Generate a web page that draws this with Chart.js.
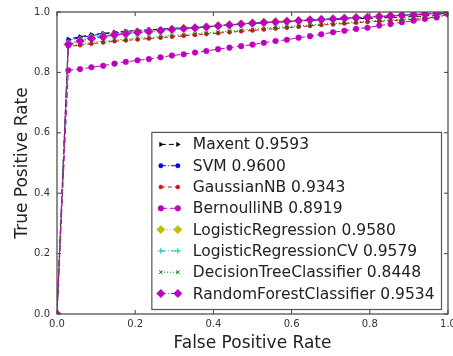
<!DOCTYPE html>
<html>
<head>
<meta charset="utf-8">
<script src="https://cdn.jsdelivr.net/npm/chart.js@4/dist/chart.umd.min.js"></script>
<style>
  html, body { margin: 0; padding: 0; background: #fff; }
  canvas { display: block; }
</style>
</head>
<body>
<canvas id="roc" width="453" height="356"></canvas>
<script>
// false positive rate (shared x values)
const fpr = [0, 0.029, 0.059, 0.088, 0.118, 0.147, 0.176, 0.206, 0.235, 0.265, 0.294, 0.324,
  0.353, 0.382, 0.412, 0.441, 0.471, 0.5, 0.529, 0.559, 0.588, 0.618, 0.647, 0.676, 0.706,
  0.735, 0.765, 0.794, 0.824, 0.853, 0.882, 0.912, 0.941, 0.971, 1.0];

const maxent = [0, 0.910, 0.918, 0.925, 0.929, 0.933, 0.936, 0.939, 0.941, 0.943, 0.945, 0.947,
  0.949, 0.951, 0.954, 0.957, 0.959, 0.962, 0.964, 0.966, 0.968, 0.970, 0.972, 0.974, 0.975,
  0.977, 0.978, 0.979, 0.980, 0.982, 0.983, 0.985, 0.987, 0.990, 1.0];
const svm = [0, 0.906, 0.915, 0.922, 0.927, 0.931, 0.935, 0.938, 0.941, 0.943, 0.946, 0.948,
  0.950, 0.952, 0.955, 0.958, 0.960, 0.963, 0.965, 0.967, 0.969, 0.971, 0.973, 0.975, 0.977,
  0.979, 0.981, 0.983, 0.985, 0.987, 0.989, 0.991, 0.993, 0.996, 1.0];
const gaussianNB = [0, 0.886, 0.890, 0.895, 0.899, 0.903, 0.906, 0.909, 0.912, 0.915, 0.918, 0.921,
  0.924, 0.927, 0.930, 0.933, 0.936, 0.939, 0.942, 0.945, 0.948, 0.951, 0.954, 0.957, 0.959,
  0.962, 0.964, 0.967, 0.969, 0.971, 0.973, 0.976, 0.979, 0.983, 0.995];
const bernoulliNB = [0, 0.807, 0.811, 0.817, 0.822, 0.829, 0.835, 0.840, 0.844, 0.850, 0.856, 0.860,
  0.866, 0.871, 0.877, 0.882, 0.887, 0.892, 0.898, 0.904, 0.908, 0.915, 0.920, 0.926, 0.933,
  0.938, 0.944, 0.948, 0.955, 0.960, 0.966, 0.971, 0.977, 0.982, 0.992];
const logReg = [0, 0.895, 0.906, 0.914, 0.920, 0.925, 0.929, 0.933, 0.936, 0.939, 0.943, 0.946,
  0.948, 0.951, 0.955, 0.958, 0.961, 0.964, 0.966, 0.968, 0.970, 0.972, 0.974, 0.976, 0.978,
  0.980, 0.982, 0.984, 0.986, 0.988, 0.990, 0.992, 0.994, 0.996, 1.0];
const logRegCV = [0, 0.896, 0.907, 0.915, 0.921, 0.926, 0.930, 0.934, 0.937, 0.940, 0.943, 0.946,
  0.949, 0.952, 0.955, 0.958, 0.961, 0.964, 0.966, 0.968, 0.970, 0.972, 0.974, 0.976, 0.978,
  0.980, 0.982, 0.984, 0.986, 0.988, 0.990, 0.992, 0.994, 0.996, 1.0];
const decisionTree = [0, 0.888, 0.893, 0.899, 0.903, 0.907, 0.910, 0.913, 0.916, 0.919, 0.922, 0.925,
  0.928, 0.931, 0.934, 0.937, 0.940, 0.943, 0.946, 0.949, 0.952, 0.954, 0.957, 0.960, 0.962,
  0.965, 0.967, 0.970, 0.972, 0.974, 0.976, 0.979, 0.982, 0.986, 0.996];
const randomForest = [0, 0.892, 0.903, 0.912, 0.917, 0.924, 0.928, 0.932, 0.935, 0.938, 0.942, 0.945,
  0.947, 0.950, 0.954, 0.957, 0.960, 0.963, 0.965, 0.967, 0.969, 0.971, 0.974, 0.975, 0.977,
  0.979, 0.981, 0.982, 0.985, 0.987, 0.989, 0.991, 0.993, 0.995, 1.0];

const names = ["Maxent", "SVM", "GaussianNB", "BernoulliNB", "LogisticRegression",
  "LogisticRegressionCV", "DecisionTreeClassifier", "RandomForestClassifier"];
const aucs = ["0.9593", "0.9600", "0.9343", "0.8919", "0.9580", "0.9579", "0.8448", "0.9534"];
const series = [maxent, svm, gaussianNB, bernoulliNB, logReg, logRegCV, decisionTree, randomForest];
const xTicks = [0, 0.2, 0.4, 0.6, 0.8, 1.0];
const yTicks = [0, 0.2, 0.4, 0.6, 0.8, 1.0];

const colors = ["#000000", "#0000ff", "#d01010", "#bf00bf", "#bfbf00", "#00bfbf", "#008000", "#bf00bf"];
const styles = [
  { pointStyle: "triangle", radius: 2.5, rotation: 90, dash: [5, 3] },
  { pointStyle: "circle", radius: 2.2, rotation: 0, dash: [5, 2, 1, 2] },
  { pointStyle: "circle", radius: 2, rotation: 0, dash: [4, 3] },
  { pointStyle: "circle", radius: 2.8, rotation: 0, dash: [6, 3] },
  { pointStyle: "rectRot", radius: 4.2, rotation: 0, dash: [1, 2] },
  { pointStyle: "cross", radius: 2.8, rotation: 0, dash: [5, 2, 1, 2] },
  { pointStyle: "crossRot", radius: 2.5, rotation: 0, dash: [1, 2] },
  { pointStyle: "rectRot", radius: 4.2, rotation: 0, dash: [5, 2, 1, 2] }
];

const FONT = "'DejaVu Sans', 'Liberation Sans', sans-serif";

const datasets = series.map((ys, i) => ({
  label: names[i] + " " + aucs[i],
  data: fpr.map((x, k) => ({ x, y: ys[k] })),
  showLine: true,
  borderColor: colors[i],
  backgroundColor: colors[i],
  borderWidth: 1,
  borderDash: styles[i].dash,
  pointStyle: styles[i].pointStyle,
  pointRadius: styles[i].radius,
  pointRotation: styles[i].rotation,
  pointBorderWidth: styles[i].pointStyle.startsWith("cross") ? 1 : 0.5,
  pointBackgroundColor: colors[i],
  pointBorderColor: colors[i],
  order: series.length - i
}));

// frame, inward ticks and the legend box inside the axes
const framePlugin = {
  id: "frame",
  afterDatasetsDraw(chart) {
    const { ctx, chartArea: a, scales } = chart;
    ctx.save();
    ctx.strokeStyle = "#444";
    ctx.lineWidth = 1.2;
    ctx.setLineDash([]);
    ctx.strokeRect(a.left, a.top, a.right - a.left, a.bottom - a.top);
    ctx.lineWidth = 1;
    const t = 4;
    xTicks.forEach(v => {
      const px = scales.x.getPixelForValue(v);
      ctx.beginPath();
      ctx.moveTo(px, a.bottom); ctx.lineTo(px, a.bottom - t);
      ctx.moveTo(px, a.top); ctx.lineTo(px, a.top + t);
      ctx.stroke();
    });
    yTicks.forEach(v => {
      const py = scales.y.getPixelForValue(v);
      ctx.beginPath();
      ctx.moveTo(a.left, py); ctx.lineTo(a.left + t, py);
      ctx.moveTo(a.right, py); ctx.lineTo(a.right - t, py);
      ctx.stroke();
    });

    // legend
    ctx.font = "15.5px " + FONT;
    const labels = chart.data.datasets.map(d => d.label);
    const textW = Math.max(...labels.map(l => ctx.measureText(l).width));
    const rowH = 21.3;
    const boxW = 41 + textW + 7;
    const boxH = 12 + rowH * (labels.length - 1) + 16;
    const bx = a.right - 6.5 - boxW;
    const by = a.bottom - 4.5 - boxH;
    ctx.fillStyle = "#fff";
    ctx.fillRect(bx, by, boxW, boxH);
    ctx.strokeStyle = "#555";
    ctx.lineWidth = 1.2;
    ctx.strokeRect(bx, by, boxW, boxH);

    labels.forEach((l, i) => {
      const cy = by + 12 + rowH * i;
      const ds = chart.data.datasets[i];
      ctx.strokeStyle = ds.borderColor;
      ctx.lineWidth = 1;
      ctx.setLineDash(ds.borderDash);
      ctx.beginPath();
      ctx.moveTo(bx + 9, cy); ctx.lineTo(bx + 26, cy);
      ctx.stroke();
      ctx.setLineDash([]);
      ctx.fillStyle = ds.pointBackgroundColor;
      ctx.strokeStyle = ds.pointBorderColor;
      ctx.lineWidth = ds.pointBorderWidth;
      [bx + 9, bx + 26].forEach(px => {
        Chart.helpers.drawPoint(ctx, {
          pointStyle: ds.pointStyle, radius: ds.pointRadius,
          rotation: ds.pointRotation, borderWidth: ds.pointBorderWidth
        }, px, cy);
      });
      ctx.fillStyle = "#222";
      ctx.textAlign = "left";
      ctx.textBaseline = "middle";
      ctx.fillText(l, bx + 41, cy + 1);
    });
    ctx.restore();
  }
};

new Chart(document.getElementById("roc"), {
  type: "scatter",
  data: { datasets },
  options: {
    responsive: false,
    animation: false,
    layout: { padding: { left: 0, right: 4, top: 12, bottom: 0 } },
    plugins: { legend: { display: false }, tooltip: { enabled: false } },
    scales: {
      x: {
        type: "linear", min: 0, max: 1,
        afterBuildTicks: s => { s.ticks = xTicks.map(v => ({ value: v })); },
        ticks: { callback: v => v.toFixed(1), font: { family: FONT, size: 10 }, color: "#333", padding: 4, maxRotation: 0, autoSkip: false },
        grid: { display: false, drawTicks: false },
        border: { display: false },
        title: { display: true, text: "False Positive Rate", font: { family: FONT, size: 17 }, color: "#222", padding: { top: 0, bottom: 2 } },
        afterFit: s => { s.height = 42; s.paddingLeft = 0; s.paddingRight = 0; }
      },
      y: {
        type: "linear", min: 0, max: 1,
        afterBuildTicks: s => { s.ticks = yTicks.map(v => ({ value: v })); },
        ticks: { callback: v => v.toFixed(1), font: { family: FONT, size: 10 }, color: "#333", padding: 7, autoSkip: false },
        grid: { display: false, drawTicks: false },
        border: { display: false },
        title: { display: true, text: "True Positive Rate", font: { family: FONT, size: 17 }, color: "#222", padding: { top: 12, bottom: 0 } },
        afterFit: s => { s.width = 57; s.paddingTop = 0; s.paddingBottom = 0; }
      }
    }
  },
  plugins: [framePlugin]
});
</script>
</body>
</html>
